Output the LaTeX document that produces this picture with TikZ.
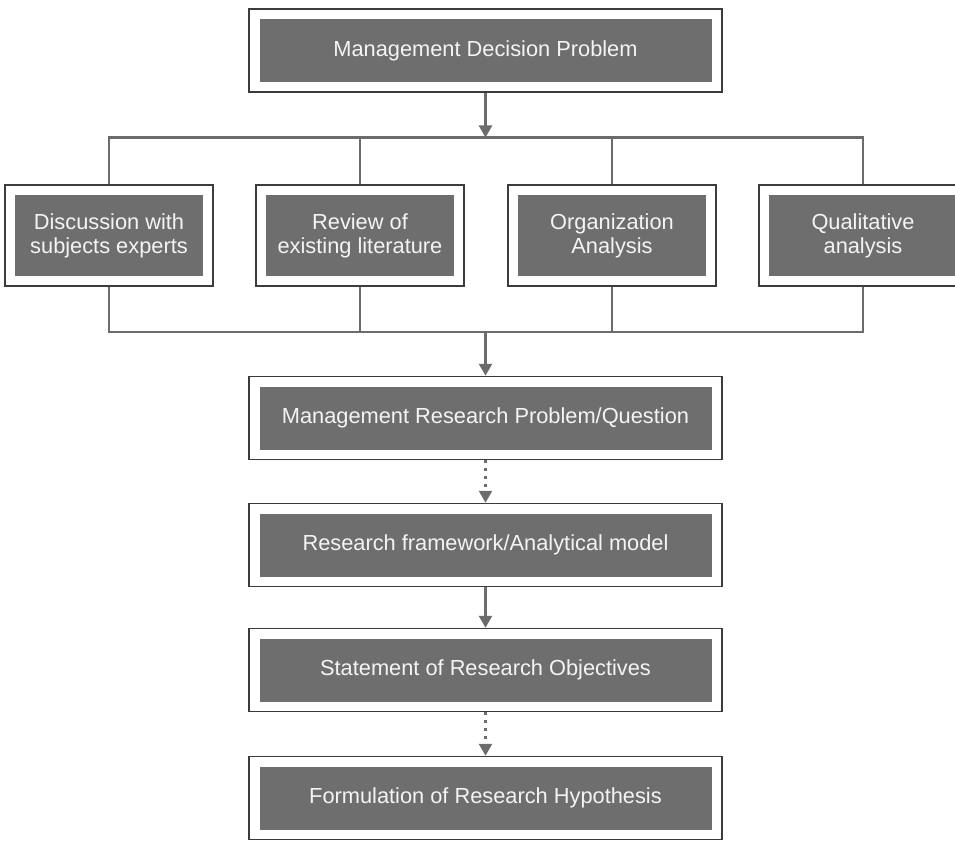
\documentclass[tikz,border=0pt]{standalone}
\usepackage{fontspec}
\setmainfont{Liberation Sans}
\usetikzlibrary{arrows.meta}

\definecolor{boxfill}{HTML}{6E6E6E}
\definecolor{boxedge}{HTML}{3C3C3C}
\definecolor{linkgray}{HTML}{6C6C6C}
\definecolor{labeltext}{HTML}{F4F4F4}

\tikzset{
  frame/.style={draw=boxedge, line width=1.5pt, fill=white, inner sep=0pt},
  wideframe/.style={frame, minimum width=473pt, minimum height=83pt},
  smallframe/.style={frame, minimum width=208pt, minimum height=101pt},
  core/.style={fill=boxfill, text=labeltext, inner sep=0pt, align=center,
               font=\fontsize{21.8}{24}\selectfont},
  widecore/.style={core, minimum width=452pt, minimum height=63pt},
  smallcore/.style={core, minimum width=188pt, minimum height=81pt},
  link/.style={draw=linkgray, line width=2.4pt},
  linkarrow/.style={link, -{Triangle[width=13pt,length=12pt]}},
  dotlink/.style={linkarrow, dash pattern=on 3pt off 5pt},
}

\begin{document}
\begin{tikzpicture}[x=1pt, y=1pt]
  \clip (0,0) rectangle (955,-840);
  \fill[white] (0,0) rectangle (955,-840);

  % decision problem at the top
  \node[wideframe] (mdp) at (485.5,-50.5) {};
  \node[widecore] (mdp-in) at (mdp.center) {Management Decision Problem};

  % four sources of input
  \node[smallframe] (disc) at (109,-235.5) {};
  \node[smallcore] (disc-in) at (disc.center) {Discussion with\\subjects experts};
  \node[smallframe] (rev) at (360,-235.5) {};
  \node[smallcore] (rev-in) at (rev.center) {Review of\\existing literature};
  \node[smallframe] (org) at (612,-235.5) {};
  \node[smallcore] (org-in) at (org.center) {Organization\\Analysis};
  \node[smallframe] (qual) at (863,-235.5) {};
  \node[smallcore] (qual-in) at (qual.center) {Qualitative\\analysis};

  % main sequence
  \node[wideframe] (mrp) at (485.5,-418) {};
  \node[widecore] (mrp-in) at (mrp.center) {Management Research Problem/Question};
  \node[wideframe] (rfm) at (485.5,-545) {};
  \node[widecore] (rfm-in) at (rfm.center) {Research framework/Analytical model};
  \node[wideframe] (sro) at (485.5,-670) {};
  \node[widecore] (sro-in) at (sro.center) {Statement of Research Objectives};
  \node[wideframe] (frh) at (485.5,-798) {};
  \node[widecore] (frh-in) at (frh.center) {Formulation of Research Hypothesis};

  % distribution bars
  \coordinate (topbar) at (485.5,-137.5);
  \coordinate (botbar) at (485.5,-332);

  \draw[linkarrow] (mdp.south) -- (topbar);
  \draw[link] (disc.north) |- (topbar -| qual.north) -- (qual.north);
  \draw[link] (rev.north) -- (rev.north |- topbar);
  \draw[link] (org.north) -- (org.north |- topbar);

  \draw[link] (disc.south) |- (botbar -| qual.south) -- (qual.south);
  \draw[link] (rev.south) -- (rev.south |- botbar);
  \draw[link] (org.south) -- (org.south |- botbar);
  \draw[linkarrow] (botbar) -- (mrp.north);

  \draw[dotlink] (mrp.south) -- (rfm.north);
  \draw[linkarrow] (rfm.south) -- (sro.north);
  \draw[dotlink] (sro.south) -- (frh.north);
\end{tikzpicture}
\end{document}
